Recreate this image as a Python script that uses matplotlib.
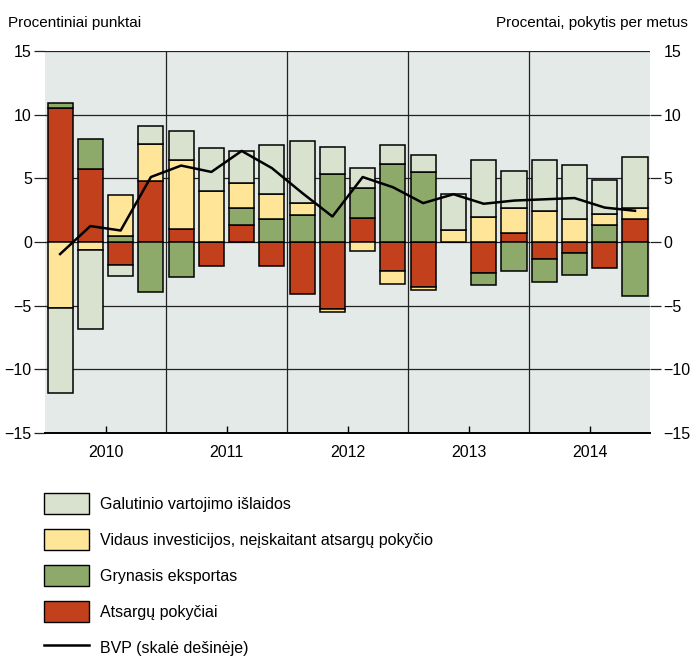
import matplotlib.pyplot as plt
import numpy as np
from matplotlib.patches import Patch
from matplotlib.lines import Line2D

plt.rcParams['font.family'] = ['Liberation Sans Narrow', 'Liberation Sans', 'DejaVu Sans']

# quarters 2010Q1 .. 2014Q4
years = ['2010', '2011', '2012', '2013', '2014']

# contributions, percentage points
atsargos = [10.5, 5.7, -1.8, 4.8, 1.05, -1.9, 1.35, -1.9, -4.1, -5.3,
            1.85, -2.3, -3.5, 0.0, -2.45, 0.7, -1.3, -0.9, -2.05, 1.8]
eksportas = [0.4, 2.4, 0.45, -3.9, -2.75, 0.0, 1.35, 1.8, 2.15, 5.35,
             2.4, 6.15, 5.5, 0.0, -0.9, -2.3, -1.85, -1.7, 1.3, -4.25]
investicijos = [-5.2, -0.6, 3.25, 2.9, 5.4, 4.0, 1.95, 2.0, 0.9, -0.2,
                -0.7, -1.0, -0.25, 0.95, 1.95, 2.0, 2.4, 1.8, 0.9, 0.85]
vartojimas = [-6.7, -6.25, -0.9, 1.4, 2.3, 3.35, 2.5, 3.8, 4.9, 2.1,
              1.55, 1.5, 1.35, 2.85, 4.45, 2.9, 4.0, 4.25, 2.65, 4.05]
# GDP growth, % y/y (right scale)
bvp = [-0.95, 1.25, 0.9, 5.1, 6.0, 5.5, 7.15, 5.8, 3.85, 2.0,
       5.1, 4.3, 3.05, 3.75, 3.0, 3.25, 3.35, 3.45, 2.7, 2.45]

series = [
    (atsargos, '#c2401c', 'Atsargų pokyčiai'),
    (eksportas, '#8eaa6b', 'Grynasis eksportas'),
    (investicijos, '#fee598', 'Vidaus investicijos, neįskaitant atsargų pokyčio'),
    (vartojimas, '#d9e2ce', 'Galutinio vartojimo išlaidos'),
]
ylabels = ['\u221215', '\u221210', '\u22125', '0', '5', '10', '15']

fig = plt.figure(figsize=(6.9, 6.64), dpi=100)
ax = fig.add_axes([0.0652, 0.348, 0.877, 0.5752])
ax.set_facecolor('#e4eae8')

x = np.arange(len(bvp))
pos = np.zeros(len(x))
neg = np.zeros(len(x))
for vals, col, lab in series:
    v = np.array(vals)
    base = np.where(v >= 0, pos, neg)
    ax.bar(x, v, 0.83, bottom=base, color=col, edgecolor='black', linewidth=1.1, zorder=3)
    pos += np.where(v >= 0, v, 0)
    neg += np.where(v < 0, v, 0)

ax.set_xlim(-0.5, len(x) - 0.5)
ax.set_ylim(-15, 15)
ax.set_yticks(np.arange(-15, 16, 5))
ax.set_yticklabels(ylabels)
for yv in [-10, -5, 0, 5, 10, 15]:
    ax.axhline(yv, color='#222222', lw=0.9, zorder=1)
for xv in [3.5, 7.5, 11.5, 15.5]:
    ax.axvline(xv, color='#222222', lw=0.9, zorder=1)

for s in ['left', 'right', 'top']:
    ax.spines[s].set_visible(False)
ax.spines['bottom'].set_linewidth(1.4)

ax.set_xticks([1.5, 5.5, 9.5, 13.5, 17.5])
ax.set_xticklabels(years)
ax.tick_params(axis='x', direction='in', length=5, width=1, labelsize=11.5, pad=9)
ax.tick_params(axis='y', direction='out', length=8, width=0.9, color='#222222', labelsize=11.5, pad=1.5)
ticks = ax.yaxis.get_major_ticks()
ticks[0].tick1line.set_visible(False)
ticks[-1].tick1line.set_visible(False)

ax2 = ax.twinx()
ax2.set_ylim(-15, 15)
ax2.set_yticks(np.arange(-15, 16, 5))
ax2.set_yticklabels(ylabels)
ax2.tick_params(axis='y', direction='out', length=8, width=0.9, color='#222222', labelsize=11.5, pad=1.5)
rt = ax2.yaxis.get_major_ticks()
rt[0].tick2line.set_visible(False)
rt[-1].tick2line.set_visible(False)
for s in ['left', 'right', 'top', 'bottom']:
    ax2.spines[s].set_visible(False)
ax2.plot(x, bvp, color='black', lw=1.8, zorder=5)

fig.text(0.012, 0.966, 'Procentiniai punktai', fontsize=11, ha='left', va='center')
fig.text(0.997, 0.966, 'Procentai, pokytis per metus', fontsize=11, ha='right', va='center')

handles = [Patch(facecolor=c, edgecolor='black', linewidth=1.0) for _, c, _ in series[::-1]]
labels = [l for _, _, l in series[::-1]]
handles.append(Line2D([], [], color='black', lw=1.8))
labels.append('BVP (skalė dešinėje)')
fig.legend(handles, labels, loc='upper left', bbox_to_anchor=(0.064, 0.257), frameon=False,
           fontsize=11.5, handlelength=2.8, handleheight=1.6, labelspacing=0.97, handletextpad=0.7,
           borderaxespad=0, borderpad=0)

fig.savefig('out.png', dpi=100)
